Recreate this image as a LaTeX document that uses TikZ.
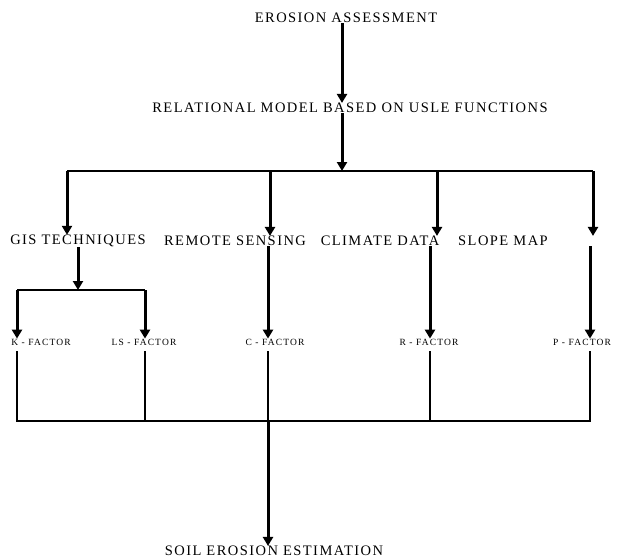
\documentclass[tikz,border=0pt]{standalone}
\usepackage{fontspec}
\setmainfont{Liberation Serif}
\usetikzlibrary{arrows.meta, positioning}
\tikzset{
  headnode/.style = {inner sep=0pt, text centered,
    font=\fontsize{14.5}{16}\selectfont\addfontfeature{LetterSpace=10}},
  factornode/.style = {inner sep=0pt, text centered,
    font=\fontsize{9.5}{11}\selectfont\addfontfeature{LetterSpace=12}},
  flow/.style = {line width=3pt, -{Triangle[width=10pt,length=9pt]}},
  wire/.style = {line width=1.1pt}
}
\begin{document}
\begin{tikzpicture}[x=1pt, y=-1pt]
\useasboundingbox (0,0) rectangle (637,558);
% top of the chart
\node [headnode] (assess) at (346,18) {EROSION ASSESSMENT};
\node [headnode] (model) at (350,108) {RELATIONAL MODEL BASED ON USLE FUNCTIONS};
\coordinate (split) at (342,171);
\draw [flow] (assess.south -| split) -- (split |- model.north);
\draw [flow] (model.south -| split) -- (split);
% the four inputs
\node [headnode] (gis) at (78,241) {GIS TECHNIQUES};
\node [headnode] (remote) at (235,241) {REMOTE SENSING};
\node [headnode] (climate) at (380,241) {CLIMATE DATA};
\node [headnode] (slope) at (503,241) {SLOPE MAP};
\coordinate (b1) at (67,171);
\coordinate (b2) at (270,171);
\coordinate (b3) at (437,171);
\coordinate (b4) at (593,171);
\draw [wire] (b1) -- (b4);
\draw [flow] (b1) -- (b1 |- gis.north);
\draw [flow] (b2) -- (b2 |- remote.north);
\draw [flow] (b3) -- (b3 |- climate.north);
\draw [flow] (b4) -- (b4 |- slope.north);
% the factors
\node [factornode] (kf) at (41,342) {K - FACTOR};
\node [factornode] (lsf) at (144,342) {LS - FACTOR};
\node [factornode] (cf) at (275,342) {C - FACTOR};
\node [factornode] (rf) at (429,342) {R - FACTOR};
\node [factornode] (pf) at (582,342) {P - FACTOR};
\coordinate (g) at (78,290);
\coordinate (gk) at (17,290);
\coordinate (gl) at (145,290);
\draw [flow] (gis.south) -- (g);
\draw [wire] (gk) -- (gl);
\draw [flow] (gk) -- (gk |- kf.north);
\draw [flow] (gl) -- (gl |- lsf.north);
\coordinate (jk) at (17,421);
\coordinate (jl) at (145,421);
\coordinate (jc) at (268,421);
\coordinate (jr) at (430,421);
\coordinate (jp) at (590,421);
\draw [flow] (remote.south -| jc) -- (jc |- cf.north);
\draw [flow] (climate.south -| jr) -- (jr |- rf.north);
\draw [flow] (slope.south -| jp) -- (jp |- pf.north);
% join the factors
\draw [wire] ([yshift=-6pt]kf.south -| jk) -- (jk) -- (jp) -- ([yshift=-6pt]pf.south -| jp);
\draw [wire] ([yshift=-6pt]lsf.south -| jl) -- (jl);
\draw [wire] ([yshift=-6pt]cf.south -| jc) -- (jc);
\draw [wire] ([yshift=-6pt]rf.south -| jr) -- (jr);
% result
\node [headnode] (soil) at (274,551) {SOIL EROSION ESTIMATION};
\draw [flow] (jc) -- (jc |- soil.north);
\end{tikzpicture}
\end{document}
